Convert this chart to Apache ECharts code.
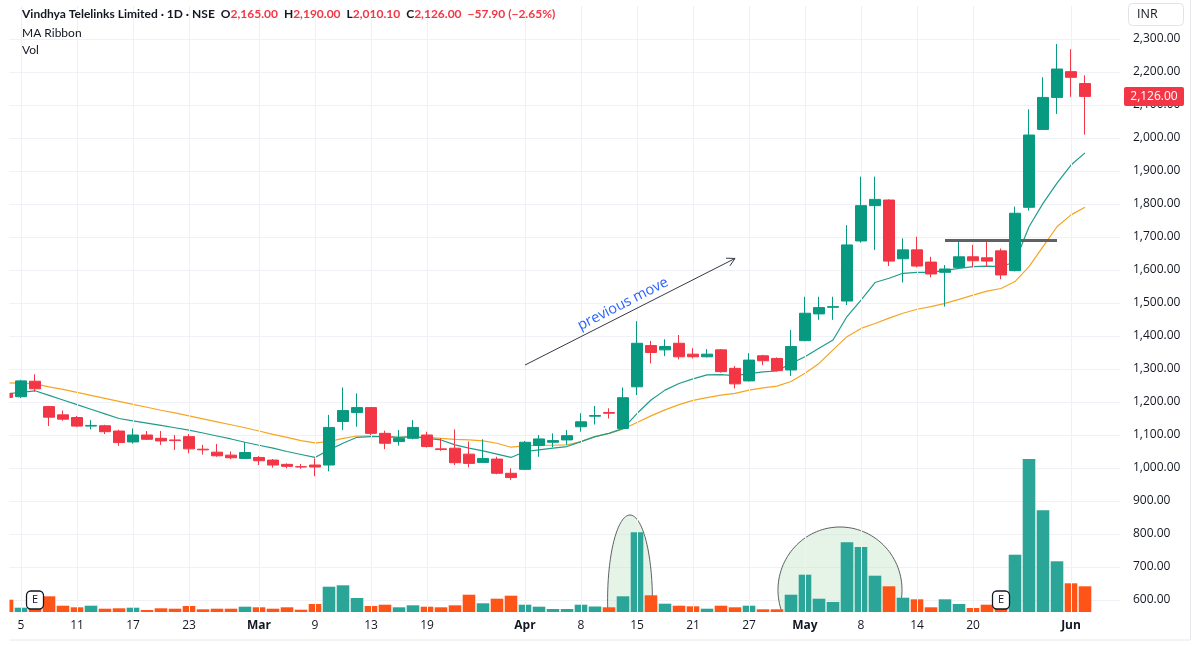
<!DOCTYPE html>
<html>
<head>
<meta charset="utf-8">
<script src="https://cdn.jsdelivr.net/npm/echarts@6/dist/echarts.min.js"></script>
<style>
html,body{margin:0;padding:0;background:#fff;}
#chart{width:1200px;height:646px;}
</style>
</head>
<body>
<div id="chart"></div>
<script>
// ---------------- DATA ----------------
const dates = [
 '2026-02-04','2026-02-05','2026-02-06','2026-02-09','2026-02-10','2026-02-11','2026-02-12','2026-02-13','2026-02-16','2026-02-17',
 '2026-02-18','2026-02-19','2026-02-20','2026-02-23','2026-02-24','2026-02-25','2026-02-26','2026-02-27','2026-03-02','2026-03-03',
 '2026-03-05','2026-03-06','2026-03-09','2026-03-10','2026-03-11','2026-03-12','2026-03-13','2026-03-16','2026-03-17','2026-03-18',
 '2026-03-19','2026-03-20','2026-03-23','2026-03-24','2026-03-25','2026-03-27','2026-03-30','2026-04-01','2026-04-02','2026-04-06',
 '2026-04-07','2026-04-08','2026-04-09','2026-04-10','2026-04-13','2026-04-15','2026-04-16','2026-04-17','2026-04-20','2026-04-21',
 '2026-04-22','2026-04-23','2026-04-24','2026-04-27','2026-04-28','2026-04-29','2026-04-30','2026-05-04','2026-05-05','2026-05-06',
 '2026-05-07','2026-05-08','2026-05-11','2026-05-12','2026-05-13','2026-05-14','2026-05-15','2026-05-18','2026-05-19','2026-05-20',
 '2026-05-21','2026-05-22','2026-05-25','2026-05-26','2026-05-27','2026-05-29','2026-06-01','2026-06-02'
];
const futureSlots = ['2026-06-03','2026-06-04'];

const opens = [
 1226,1216,1263,1186,1161,1153,1127,1128,1112,1079,
 1100,1090,1085,1095,1057,1048,1039,1029,1032,1024,
 1011,1004,1009,1009,1141,1168,1183,1105,1080,1090,
 1100,1058,1060,1042,1017,1027,984,996,1068,1078,
 1085,1125,1157,1168,1120,1246,1371,1358,1378,1345,
 1337,1358,1302,1264,1340,1332,1297,1386,1467,1487,
 1506,1688,1795,1812,1634,1661,1624,1593,1608,1640,
 1637,1658,1598,1790,2026,2123,2201,2165
];
const highs = [
 1232,1267,1284,1188,1174,1158,1145,1131,1116,1120,
 1112,1112,1100,1103,1070,1073,1050,1078,1036,1027,
 1014,1012,1029,1161,1244,1226,1185,1113,1115,1145,
 1110,1090,1117,1080,1087,1034,999,1082,1100,1105,
 1115,1166,1188,1181,1244,1445,1385,1390,1403,1363,
 1360,1360,1309,1348,1343,1335,1418,1519,1519,1519,
 1736,1883,1883,1814,1696,1701,1640,1615,1686,1676,
 1686,1665,1792,2087,2184,2285,2269,2190
];
const lows = [
 1208,1212,1231,1127,1143,1125,1117,1103,1067,1074,
 1085,1070,1055,1045,1041,1034,1027,1027,1009,1001,
 999,998,975,990,1115,1125,1100,1057,1068,1087,
 1062,1052,1009,1002,1016,981,964,994,1034,1063,
 1070,1110,1132,1150,1118,1221,1317,1339,1329,1332,
 1335,1289,1241,1262,1312,1293,1279,1384,1449,1449,
 1494,1683,1661,1612,1562,1608,1578,1489,1606,1608,
 1610,1572,1596,1780,2024,2073,2125,2010.1
];
const closes = [
 1214,1264,1240,1154,1148,1127,1129,1110,1077,1100,
 1087,1082,1083,1058,1055,1037,1031,1047,1022,1009,
 1005,1003,1003,1123,1174,1183,1105,1075,1090,1123,
 1065,1056,1016,1014,1029,984,971,1078,1088,1083,
 1098,1140,1159,1166,1213,1378,1350,1368,1337,1337,
 1345,1292,1255,1327,1325,1295,1368,1469,1486,1489,
 1676,1795,1814,1627,1661,1612,1588,1603,1640,1628,
 1627,1585,1772,2009,2123,2209,2183.9,2126
];
// volume, thousand shares
const volumes = [
 12.3,4.3,3,15.7,6.3,4.7,6.3,3.3,3.7,4.3,
 2,3.7,3.3,6,2.7,3.3,3.3,5.3,4.7,3.3,
 4.7,2.3,8,25.3,26.7,14,6,7.3,4.7,6.7,
 5.3,4.7,6.7,17.3,8.7,13.3,16.3,7.3,5.3,3,
 3,7.3,5.5,4.7,15.7,79.7,16.7,8.3,6.3,5.7,
 3.3,6.3,4.7,6.3,2.7,2.7,17.3,37.3,13.3,10,
 69.7,65,36.3,25.7,14.3,12.7,4.7,12.7,8,4,
 7.3,4,57.3,153,101.7,50.7,28.7,25.7
];
// MA Ribbon: fast (teal) and slow (orange) averages
const maFast = [
 1225,1229,1234,1220,1206,1192,1178,1164,1150,1143,
 1136,1129,1122,1115,1106,1097,1088,1078,1069,1060,
 1050,1041,1032,1055,1075,1093,1095,1095,1093,1095,
 1090,1085,1070,1060,1052,1042,1032,1050,1055,1060,
 1065,1080,1095,1105,1120,1165,1206,1236,1256,1270,
 1282,1283,1280,1286,1291,1294,1317,1337,1363,1388,
 1459,1509,1562,1575,1590,1593,1593,1599,1605,1610,
 1612,1610,1625,1731,1802,1863,1918,1955
];
const maSlow = [
 1258,1257,1255,1246,1238,1229,1220,1211,1202,1193,
 1184,1175,1167,1158,1149,1140,1131,1122,1112,1102,
 1093,1083,1076,1080,1090,1097,1097,1095,1093,1095,
 1093,1090,1087,1085,1082,1075,1063,1067,1069,1069,
 1070,1080,1095,1105,1118,1138,1158,1176,1192,1205,
 1213,1221,1226,1236,1243,1248,1262,1287,1317,1358,
 1398,1423,1438,1454,1469,1481,1489,1499,1511,1524,
 1536,1544,1565,1610,1671,1731,1767,1790
];
const labelIdx   = [1,5,9,13,18,22,26,30,37,41,45,49,53,57,61,65,69,76];
const tickLabels = ['5','11','17','23','Mar','9','13','19','Apr','8','15','21','27','May','8','14','20','Jun'];
const monthLabels = ['Mar','Apr','May','Jun'];
const earningsIdx = [2, 71];
const breakoutLevel = 1690, breakoutFrom = 67, breakoutTo = 75;
const lastClose = 2126;
const lastCloseText = '2,126.00';
const header = {name:'Vindhya Telelinks Limited · 1D · NSE', o:'2,165.00', h:'2,190.00', l:'2,010.10', c:'2,126.00', chg:'−57.90 (−2.65%)'};

// ---------------- CHART ----------------
const UP = '#089981', DOWN = '#f23645';
const VUP = '#2ba597', VDOWN = '#ff5417';
const FONT = "'Open Sans', 'Noto Sans', sans-serif";
const HFONT = "Lato, 'Open Sans', sans-serif";
const TXT = '#131722';
const GRID = '#eff1f6';

const categories = dates.concat(futureSlots);
const candleData = dates.map((d, i) => [opens[i], closes[i], lows[i], highs[i]]);
const volData = volumes.map((v, i) => ({
  value: v,
  itemStyle: {color: closes[i] >= opens[i] ? VUP : VDOWN}
}));
const labelMap = {};
labelIdx.forEach((k, j) => { labelMap[k] = tickLabels[j]; });

const PRICE_MIN = 500, PRICE_MAX = 2400;
const VOL_MIN = -21, VOL_MAX = 606;
const BASE_PRICE = 563.64; // price at the volume baseline

const chart = echarts.init(document.getElementById('chart'), null, {renderer: 'canvas'});

const hdrText = '{t|' + header.name + '}{g| }{t|O}{r|' + header.o + '}{g| }{t|H}{r|' + header.h + '}{g| }{t|L}{r|' + header.l +
  '}{g| }{t|C}{r|' + header.c + '}{g| }{r|' + header.chg + '}';

const option = {
  animation: false,
  backgroundColor: '#ffffff',
  textStyle: {fontFamily: FONT},
  title: [
    {
      left: 17, top: 3,
      text: hdrText,
      textStyle: {
        rich: {
          t: {color: TXT, fontSize: 12, fontFamily: HFONT},
          r: {color: DOWN, fontSize: 12, fontFamily: HFONT},
          g: {fontSize: 12, width: 6, fontFamily: HFONT}
        }
      }
    },
    {left: 17, top: 22, text: 'MA Ribbon', textStyle: {color: TXT, fontSize: 12, fontWeight: 'normal', fontFamily: HFONT}},
    {left: 17, top: 39, text: 'Vol', textStyle: {color: TXT, fontSize: 12, fontWeight: 'normal', fontFamily: HFONT}},
    {
      left: 1128, top: 3, text: 'INR',
      padding: [5, 26, 5, 9],
      borderColor: '#e0e3eb', borderWidth: 1, borderRadius: 4,
      textStyle: {color: TXT, fontSize: 12.5, fontWeight: 'normal', fontFamily: FONT}
    }
  ],
  grid: {left: 0, right: 80, top: 6, bottom: 13, containLabel: false},
  xAxis: {
    type: 'category',
    data: categories,
    boundaryGap: true,
    offset: -21,
    axisLine: {show: false},
    axisTick: {show: false},
    splitLine: {show: false},
    axisLabel: {
      interval: (idx) => labelMap[idx] !== undefined,
      formatter: (val, idx) => {
        const s = labelMap[idx];
        if (s === undefined) return '';
        return monthLabels.indexOf(s) >= 0 ? '{b|' + s + '}' : '{n|' + s + '}';
      },
      margin: 8,
      rich: {
        n: {color: TXT, fontSize: 12, fontFamily: FONT},
        b: {color: TXT, fontSize: 12, fontWeight: 'bold', fontFamily: FONT}
      }
    }
  },
  yAxis: [
    {
      type: 'value', position: 'right', scale: true,
      min: PRICE_MIN, max: PRICE_MAX, interval: 100,
      axisLine: {show: false}, axisTick: {show: false},
      splitLine: {show: true, showMinLine: false, showMaxLine: false, lineStyle: {color: GRID, width: 1}},
      axisLabel: {
        showMinLabel: false, showMaxLabel: false,
        margin: 13, color: TXT, fontSize: 12, fontFamily: FONT,
        formatter: (v) => (v < 600 || v > 2300) ? '' : v.toLocaleString('en-US', {minimumFractionDigits: 2, maximumFractionDigits: 2})
      }
    },
    {
      type: 'value', show: false, min: VOL_MIN, max: VOL_MAX,
      splitLine: {show: false}
    }
  ],
  series: [
    {
      name: 'grid-v', type: 'line', data: [], z: 0, silent: true,
      markLine: {
        silent: true, symbol: ['none', 'none'], animation: false,
        label: {show: false},
        lineStyle: {color: GRID, width: 1, type: 'solid'},
        data: labelIdx.map(k => [{coord: [k, PRICE_MAX]}, {coord: [k, BASE_PRICE]}])
      }
    },
    {
      name: 'Vol', type: 'bar', xAxisIndex: 0, yAxisIndex: 1,
      data: volData, barWidth: 12.6, z: 2,
      markPoint: {
        symbol: 'roundRect', symbolSize: [17, 18],
        itemStyle: {color: '#ffffff', borderColor: '#131722', borderWidth: 1.3},
        label: {show: true, position: 'inside', formatter: 'E', color: '#131722', fontSize: 11, fontFamily: FONT},
        data: earningsIdx.map(k => ({coord: [k, 12]}))
      }
    },
    {
      name: 'MA slow', type: 'line', data: maSlow, showSymbol: false, smooth: false, z: 3,
      lineStyle: {color: '#f5a524', width: 1.2}
    },
    {
      name: 'MA fast', type: 'line', data: maFast, showSymbol: false, smooth: false, z: 3,
      lineStyle: {color: '#1f9c8a', width: 1.2}
    },
    {
      name: 'Price', type: 'candlestick', data: candleData, barWidth: 11, z: 5,
      itemStyle: {color: UP, color0: DOWN, borderColor: UP, borderColor0: DOWN, borderWidth: 1},
      markLine: {
        silent: true, symbol: ['none', 'none'], animation: false,
        label: {show: false},
        data: [
          [
            {coord: [breakoutFrom, breakoutLevel], lineStyle: {color: '#5f6166', width: 3, type: 'solid'}},
            {coord: [breakoutTo, breakoutLevel]}
          ]
        ]
      }
    }
  ]
};

chart.setOption(option);

// ---------------- ANNOTATIONS (placed from data coordinates) ----------------
function xPix(v) {
  const a = Math.floor(v), f = v - a;
  const pa = chart.convertToPixel({xAxisIndex: 0}, a);
  const pb = chart.convertToPixel({xAxisIndex: 0}, a + 1);
  return pa + (pb - pa) * f;
}
function yPrice(p) { return chart.convertToPixel({yAxisIndex: 0}, p); }
function yVol(v) { return chart.convertToPixel({yAxisIndex: 1}, v); }

const bandW = xPix(1) - xPix(0);
const baseY = yVol(0);
const unitY = yVol(0) - yVol(1);
const plotRight = xPix(categories.length - 1) + bandW / 2;
const plotLeftClip = xPix(0) + 2.5; // reference pane starts inside the first bar

function ellipseShapes(cIdx, cVol, halfBands, halfVol) {
  const cx = xPix(cIdx), cy = yVol(cVol);
  const rx = halfBands * bandW, ry = halfVol * unitY;
  const s = Math.max(-1, Math.min(1, (baseY - cy) / ry));
  const a = Math.asin(s);
  const pts = [];
  const t0 = Math.PI - a, t1 = 2 * Math.PI + a, n = 80;
  for (let k = 0; k <= n; k++) {
    const t = t0 + (t1 - t0) * k / n;
    pts.push([cx + rx * Math.cos(t), cy + ry * Math.sin(t)]);
  }
  return [
    {type: 'polygon', z: 1, silent: true, shape: {points: pts}, style: {fill: 'rgba(200,230,205,0.45)', stroke: null}},
    {type: 'polyline', z: 1, silent: true, shape: {points: pts}, style: {stroke: '#5d6066', lineWidth: 1, fill: null}}
  ];
}

const arrowFrom = [37, 1312], arrowTo = [52, 1635];
const p0 = [xPix(arrowFrom[0]), yPrice(arrowFrom[1])];
const p1 = [xPix(arrowTo[0]), yPrice(arrowTo[1])];
const dx = p1[0] - p0[0], dy = p1[1] - p0[1];
const len = Math.sqrt(dx * dx + dy * dy);
const ux = dx / len, uy = dy / len;
const headL = 9, th = 0.5;
function rot(x, y, a) { return [x * Math.cos(a) - y * Math.sin(a), x * Math.sin(a) + y * Math.cos(a)]; }
const h1 = rot(ux, uy, th), h2 = rot(ux, uy, -th);
const angle = Math.atan2(-dy, dx);

const tagY = yPrice(lastClose);

const graphics = []
  .concat(ellipseShapes(44.5, 12, 1.6, 85))
  .concat(ellipseShapes(59.5, 22, 4.43, 63))
  .concat([
    {type: 'line', z: 10, silent: true, shape: {x1: p0[0], y1: p0[1], x2: p1[0], y2: p1[1]}, style: {stroke: '#363a45', lineWidth: 1}},
    {type: 'polyline', z: 10, silent: true,
      shape: {points: [[p1[0] - headL * h1[0], p1[1] - headL * h1[1]], p1, [p1[0] - headL * h2[0], p1[1] - headL * h2[1]]]},
      style: {stroke: '#363a45', lineWidth: 1, fill: null}},
    {type: 'text', z: 10, silent: true,
      x: xPix(44), y: yPrice(1497), rotation: angle,
      style: {text: 'previous move', fill: '#2962ff', fontSize: 14.5, fontFamily: FONT, align: 'center', verticalAlign: 'middle'}},
    // mask: the reference pane begins inside the first (partial) bar
    {type: 'rect', z: 50, silent: true, shape: {x: 0, y: 0, width: plotLeftClip, height: 646}, style: {fill: '#ffffff'}},
    // frame lines of the chart pane
    {type: 'line', z: 50, silent: true, shape: {x1: plotLeftClip, y1: 640, x2: 1190, y2: 640}, style: {stroke: '#e6e8ee', lineWidth: 1}},
    {type: 'line', z: 50, silent: true, shape: {x1: 1190.5, y1: 0, x2: 1190.5, y2: 640}, style: {stroke: '#e6e8ee', lineWidth: 1}},
    // last price tag on the price scale
    {type: 'rect', z: 60, silent: true, shape: {x: plotRight + 4, y: tagY - 9.5, width: 60, height: 19, r: 2}, style: {fill: DOWN}},
    {type: 'text', z: 61, silent: true, x: plotRight + 34, y: tagY,
      style: {text: lastCloseText, fill: '#ffffff', fontSize: 12, fontFamily: FONT, align: 'center', verticalAlign: 'middle'}}
  ]);

chart.setOption({graphic: graphics});
</script>
</body>
</html>
